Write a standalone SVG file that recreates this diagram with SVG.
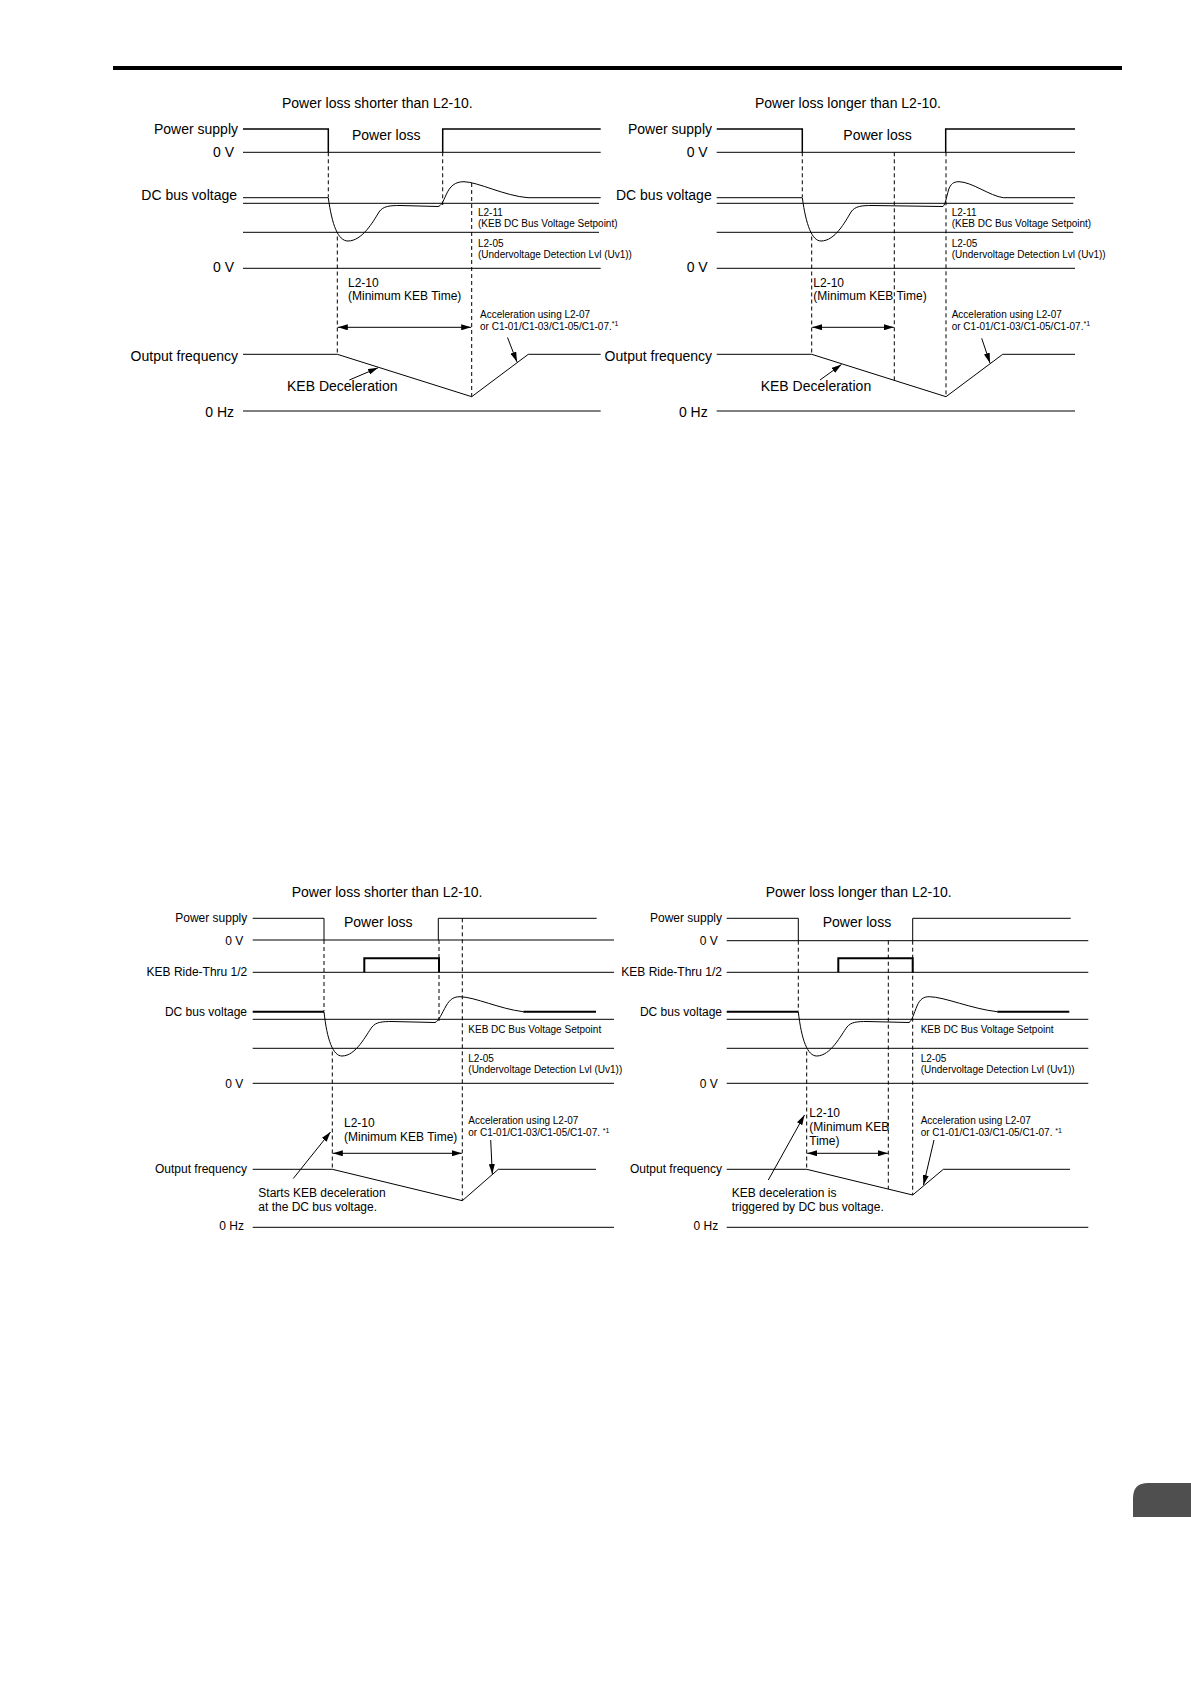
<svg xmlns="http://www.w3.org/2000/svg" width="1191" height="1684" viewBox="0 0 1191 1684">
<style>
.ln{stroke:#000;stroke-width:1;fill:none}
.sig{stroke:#000;stroke-width:1.5;fill:none}
.thk{stroke:#000;stroke-width:2;fill:none}
.dsh{stroke:#000;stroke-width:1;fill:none;stroke-dasharray:4 3}
.arr{stroke:#000;stroke-width:1;fill:none;marker-end:url(#ah)}
.dim{stroke:#000;stroke-width:1;fill:none;marker-start:url(#ah);marker-end:url(#ah)}
text{font-family:"Liberation Sans",Arial,sans-serif;fill:#000}
.t14{font-size:14px}
.t12{font-size:12px}
.t10{font-size:10px}
.sup{font-size:7px}
.e{text-anchor:end}
</style>
<defs>
<marker id="ah" viewBox="0 0 10 6" refX="10" refY="3" markerWidth="10" markerHeight="6" markerUnits="userSpaceOnUse" orient="auto-start-reverse">
<path d="M0,0 L10,3 L0,6 z" fill="#000"/>
</marker>
</defs>
<rect width="1191" height="1684" fill="#fff"/>
<line x1="113" y1="68" x2="1122" y2="68" stroke="#000" stroke-width="4"/>
<path id="tab" d="M1191,1483 L1148,1483 Q1133,1483 1133,1498 L1133,1517 L1191,1517 z" fill="#4f4f4f"/>

<!-- TOP LEFT -->
<g id="chart-top-left">
<text class="t14" x="282" y="108">Power loss shorter than L2-10.</text>
<text class="t14 e" x="238" y="134">Power supply</text>
<text class="t14 e" x="234" y="156.5">0 V</text>
<text class="t14 e" x="237" y="200">DC bus voltage</text>
<text class="t14 e" x="234" y="272">0 V</text>
<text class="t14 e" x="238" y="361">Output frequency</text>
<text class="t14 e" x="234" y="416.5">0 Hz</text>
<text class="t14" x="352" y="140">Power loss</text>
<text class="t12" x="348" y="286.5">L2-10</text>
<text class="t12" x="348" y="300">(Minimum KEB Time)</text>
<text class="t10" x="478" y="215.5">L2-11</text>
<text class="t10" x="478" y="227">(KEB DC Bus Voltage Setpoint)</text>
<text class="t10" x="478" y="246.5">L2-05</text>
<text class="t10" x="478" y="258">(Undervoltage Detection Lvl (Uv1))</text>
<text class="t10" x="480" y="318.3">Acceleration using L2-07</text>
<text class="t10" x="480" y="330.3">or C1-01/C1-03/C1-05/C1-07.<tspan class="sup" dy="-4">*1</tspan></text>
<text class="t14" x="287" y="391">KEB Deceleration</text>
<g id="tl-lines">
<path class="sig" d="M243,129 L328.3,129 L328.3,152.3 M442.7,152.3 L442.7,129 L600.7,129"/>
<line class="ln" x1="243" y1="152.3" x2="600.7" y2="152.3"/>
<path class="ln" d="M243,197.7 L328.3,197.7 C332,225 338,241 348,241 C362,241 373,222 379,212 C383,206 390,205.5 400,205.5 L438,206.5 C441,206 443,202 446,195 C450,186 455,181.7 464,181.7 C478,182 505,196 528,197.7 L600.7,197.7"/>
<line class="ln" x1="243" y1="203.3" x2="599" y2="203.3"/>
<line class="ln" x1="243" y1="232.3" x2="599" y2="232.3"/>
<line class="ln" x1="243" y1="268.3" x2="600.7" y2="268.3"/>
<path class="ln" d="M243,354.3 L337.3,354.3 L471.7,396.7 L528.3,354.3 L600.7,354.3"/>
<line class="ln" x1="243" y1="411" x2="600.7" y2="411"/>
</g>
<g id="tl-connectors">
<line class="dsh" x1="328.3" y1="152.3" x2="328.3" y2="197"/>
<line class="dsh" x1="337.3" y1="236.5" x2="337.3" y2="354.3"/>
<line class="dsh" x1="442.7" y1="152.3" x2="442.7" y2="205"/>
<line class="dsh" x1="471.7" y1="183" x2="471.7" y2="396.7"/>
<line class="dim" x1="337.8" y1="327.3" x2="471.2" y2="327.3"/>
<line class="arr" x1="349.3" y1="380" x2="378" y2="367.8"/>
<line class="arr" x1="507.5" y1="337.5" x2="517" y2="362"/>
</g>
</g>

<!-- TOP RIGHT -->
<g id="chart-top-right">
<text class="t14" x="755" y="108">Power loss longer than L2-10.</text>
<text class="t14 e" x="712" y="134">Power supply</text>
<text class="t14 e" x="707.7" y="156.5">0 V</text>
<text class="t14 e" x="711.7" y="200">DC bus voltage</text>
<text class="t14 e" x="707.7" y="272">0 V</text>
<text class="t14 e" x="712" y="361">Output frequency</text>
<text class="t14 e" x="707.7" y="416.5">0 Hz</text>
<text class="t14" x="843.3" y="140">Power loss</text>
<text class="t12" x="813.3" y="286.5">L2-10</text>
<text class="t12" x="813.3" y="300">(Minimum KEB Time)</text>
<text class="t10" x="951.7" y="215.5">L2-11</text>
<text class="t10" x="951.7" y="227">(KEB DC Bus Voltage Setpoint)</text>
<text class="t10" x="951.7" y="246.5">L2-05</text>
<text class="t10" x="951.7" y="258">(Undervoltage Detection Lvl (Uv1))</text>
<text class="t10" x="951.7" y="318.3">Acceleration using L2-07</text>
<text class="t10" x="951.7" y="330.3">or C1-01/C1-03/C1-05/C1-07.<tspan class="sup" dy="-4">*1</tspan></text>
<text class="t14" x="760.7" y="391">KEB Deceleration</text>
<g id="tr-lines">
<path class="sig" d="M716.7,129 L802.3,129 L802.3,152.3 M945.7,152.3 L945.7,129 L1075,129"/>
<line class="ln" x1="716.7" y1="152.3" x2="1075" y2="152.3"/>
<path class="ln" d="M716.7,197.7 L802.3,197.7 C806,225 812,241 821,241 C835,241 845,222 851,212 C855,206 862,205.5 872,205.5 L943,206.5 C945.5,204 946.5,197 948.5,190 C950.5,184 953.5,181.7 959,181.7 C972,182 990,196 1003.3,197.7 L1075,197.7"/>
<line class="ln" x1="716.7" y1="203.3" x2="1073.3" y2="203.3"/>
<line class="ln" x1="716.7" y1="232.3" x2="1073.3" y2="232.3"/>
<line class="ln" x1="716.7" y1="268.3" x2="1075" y2="268.3"/>
<path class="ln" d="M716.7,354.3 L811.7,354.3 L946,396.7 L1002.7,354.3 L1075,354.3"/>
<line class="ln" x1="716.7" y1="411" x2="1075" y2="411"/>
</g>
<g id="tr-connectors">
<line class="dsh" x1="802.3" y1="152.3" x2="802.3" y2="197"/>
<line class="dsh" x1="811.7" y1="236.5" x2="811.7" y2="354.3"/>
<line class="dsh" x1="894.3" y1="152.3" x2="894.3" y2="380.4"/>
<line class="dsh" x1="946" y1="152.3" x2="946" y2="396.7"/>
<line class="dim" x1="812.2" y1="327.3" x2="893.8" y2="327.3"/>
<line class="arr" x1="820" y1="380" x2="841.5" y2="364.5"/>
<line class="arr" x1="981.7" y1="338.3" x2="990" y2="363"/>
</g>
</g>

<!-- BOTTOM LEFT -->
<g id="chart-bottom-left">
<text class="t14" x="291.7" y="896.7">Power loss shorter than L2-10.</text>
<text class="t12 e" x="247.3" y="922.3">Power supply</text>
<text class="t12 e" x="243.3" y="944.5">0 V</text>
<text class="t12 e" x="247.3" y="976">KEB Ride-Thru 1/2</text>
<text class="t12 e" x="247" y="1016">DC bus voltage</text>
<text class="t12 e" x="243.3" y="1088">0 V</text>
<text class="t12 e" x="247" y="1172.7">Output frequency</text>
<text class="t12 e" x="244" y="1230">0 Hz</text>
<text class="t14" x="344" y="927.3">Power loss</text>
<text class="t10" x="468.3" y="1033">KEB DC Bus Voltage Setpoint</text>
<text class="t10" x="468.3" y="1061.5">L2-05</text>
<text class="t10" x="468.3" y="1073">(Undervoltage Detection Lvl (Uv1))</text>
<text class="t12" x="344" y="1126.7">L2-10</text>
<text class="t12" x="344" y="1140.7">(Minimum KEB Time)</text>
<text class="t10" x="468.3" y="1124">Acceleration using L2-07</text>
<text class="t10" x="468.3" y="1135.5">or C1-01/C1-03/C1-05/C1-07. <tspan class="sup" dy="-3">*1</tspan></text>
<text class="t12" x="258.3" y="1196.7">Starts KEB deceleration</text>
<text class="t12" x="258.3" y="1210.7">at the DC bus voltage.</text>
<g id="bl-lines">
<path class="ln" d="M252.7,918.3 L324,918.3 L324,940 M438.3,940 L438.3,918.3 L596.7,918.3"/>
<line class="ln" x1="252.7" y1="940" x2="614" y2="940"/>
<line class="ln" x1="252.7" y1="972.3" x2="614" y2="972.3"/>
<path class="thk" d="M364.3,972.3 L364.3,958.3 L439,958.3 L439,972.3"/>
<line class="thk" x1="252.7" y1="1011.7" x2="324" y2="1011.7"/>
<path class="ln" d="M324,1011.7 C327,1040 333,1056 342,1056 C356,1056 366,1035 372,1027 C376,1022 382,1021.5 392,1021.5 L435,1022.5 C439,1021 442,1013 446,1006 C450,999 454,996.7 460,996.7 C475,997 500,1009 523.3,1011.7"/>
<line class="thk" x1="523.3" y1="1011.7" x2="596" y2="1011.7"/>
<line class="ln" x1="252.7" y1="1019.3" x2="614" y2="1019.3"/>
<line class="ln" x1="252.7" y1="1048.3" x2="614" y2="1048.3"/>
<line class="ln" x1="252.7" y1="1083.3" x2="614" y2="1083.3"/>
<path class="ln" d="M252.7,1169.3 L332.3,1169.3 L462.3,1200.7 L498.3,1169.3 L596,1169.3"/>
<line class="ln" x1="252.7" y1="1227.3" x2="614" y2="1227.3"/>
</g>
<g id="bl-connectors">
<line class="dsh" x1="324" y1="940" x2="324" y2="1011"/>
<line class="dsh" x1="332.3" y1="1051.5" x2="332.3" y2="1169.3"/>
<line class="dsh" x1="439" y1="940" x2="439" y2="1021"/>
<line class="dsh" x1="462.3" y1="918.3" x2="462.3" y2="1200.7"/>
<line class="dim" x1="332.8" y1="1153.3" x2="461.8" y2="1153.3"/>
<line class="arr" x1="293.3" y1="1178.5" x2="330.5" y2="1132"/>
<line class="arr" x1="490.7" y1="1140" x2="492.3" y2="1174"/>
</g>
</g>

<!-- BOTTOM RIGHT -->
<g id="chart-bottom-right">
<text class="t14" x="765.7" y="896.7">Power loss longer than L2-10.</text>
<text class="t12 e" x="722" y="922">Power supply</text>
<text class="t12 e" x="717.7" y="944.5">0 V</text>
<text class="t12 e" x="722" y="976">KEB Ride-Thru 1/2</text>
<text class="t12 e" x="722" y="1016">DC bus voltage</text>
<text class="t12 e" x="717.7" y="1088">0 V</text>
<text class="t12 e" x="722" y="1172.7">Output frequency</text>
<text class="t12 e" x="718.3" y="1230">0 Hz</text>
<text class="t14" x="822.7" y="927.3">Power loss</text>
<text class="t10" x="920.7" y="1033">KEB DC Bus Voltage Setpoint</text>
<text class="t10" x="920.7" y="1061.5">L2-05</text>
<text class="t10" x="920.7" y="1073">(Undervoltage Detection Lvl (Uv1))</text>
<text class="t12" x="809.3" y="1116.7">L2-10</text>
<text class="t12" x="809.3" y="1130.7">(Minimum KEB</text>
<text class="t12" x="809.3" y="1144.7">Time)</text>
<text class="t10" x="920.7" y="1124">Acceleration using L2-07</text>
<text class="t10" x="920.7" y="1135.5">or C1-01/C1-03/C1-05/C1-07. <tspan class="sup" dy="-3">*1</tspan></text>
<text class="t12" x="731.7" y="1196.7">KEB deceleration is</text>
<text class="t12" x="731.7" y="1210.7">triggered by DC bus voltage.</text>
<g id="br-lines">
<path class="ln" d="M726.7,918.3 L798.3,918.3 L798.3,940.7 M912.7,940.7 L912.7,918.3 L1070.7,918.3"/>
<line class="ln" x1="726.7" y1="940.7" x2="1088.3" y2="940.7"/>
<line class="ln" x1="726.7" y1="972.3" x2="1088.3" y2="972.3"/>
<path class="thk" d="M838.3,972.3 L838.3,958.3 L912.7,958.3 L912.7,972.3"/>
<line class="thk" x1="726.7" y1="1011.7" x2="798.3" y2="1011.7"/>
<path class="ln" d="M798.3,1011.7 C801.5,1040 807.5,1056 816.7,1056 C830.7,1056 841,1035 847,1027 C851,1022 857,1021.5 867,1021.5 L909,1022.5 C912,1021 914,1013 917,1006 C920,999 923.5,996.7 929.3,996.7 C945,997 972,1009 997.3,1011.7"/>
<line class="thk" x1="997.3" y1="1011.7" x2="1069.3" y2="1011.7"/>
<line class="ln" x1="726.7" y1="1019.3" x2="1088.3" y2="1019.3"/>
<line class="ln" x1="726.7" y1="1048.3" x2="1088.3" y2="1048.3"/>
<line class="ln" x1="726.7" y1="1083.3" x2="1088.3" y2="1083.3"/>
<path class="ln" d="M726.7,1169.3 L806.7,1169.3 L912.7,1195 L943.3,1169.3 L1070,1169.3"/>
<line class="ln" x1="726.7" y1="1227.3" x2="1088.3" y2="1227.3"/>
</g>
<g id="br-connectors">
<line class="dsh" x1="798.3" y1="940.7" x2="798.3" y2="1011"/>
<line class="dsh" x1="806.7" y1="1051.5" x2="806.7" y2="1169.3"/>
<line class="dsh" x1="888.3" y1="940.7" x2="888.3" y2="1189"/>
<line class="dsh" x1="912.7" y1="940.7" x2="912.7" y2="1195"/>
<line class="dim" x1="807.2" y1="1153.3" x2="887.8" y2="1153.3"/>
<line class="arr" x1="768.3" y1="1180" x2="804.5" y2="1115"/>
<line class="arr" x1="934" y1="1140" x2="923.5" y2="1185"/>
</g>
</g>
</svg>
